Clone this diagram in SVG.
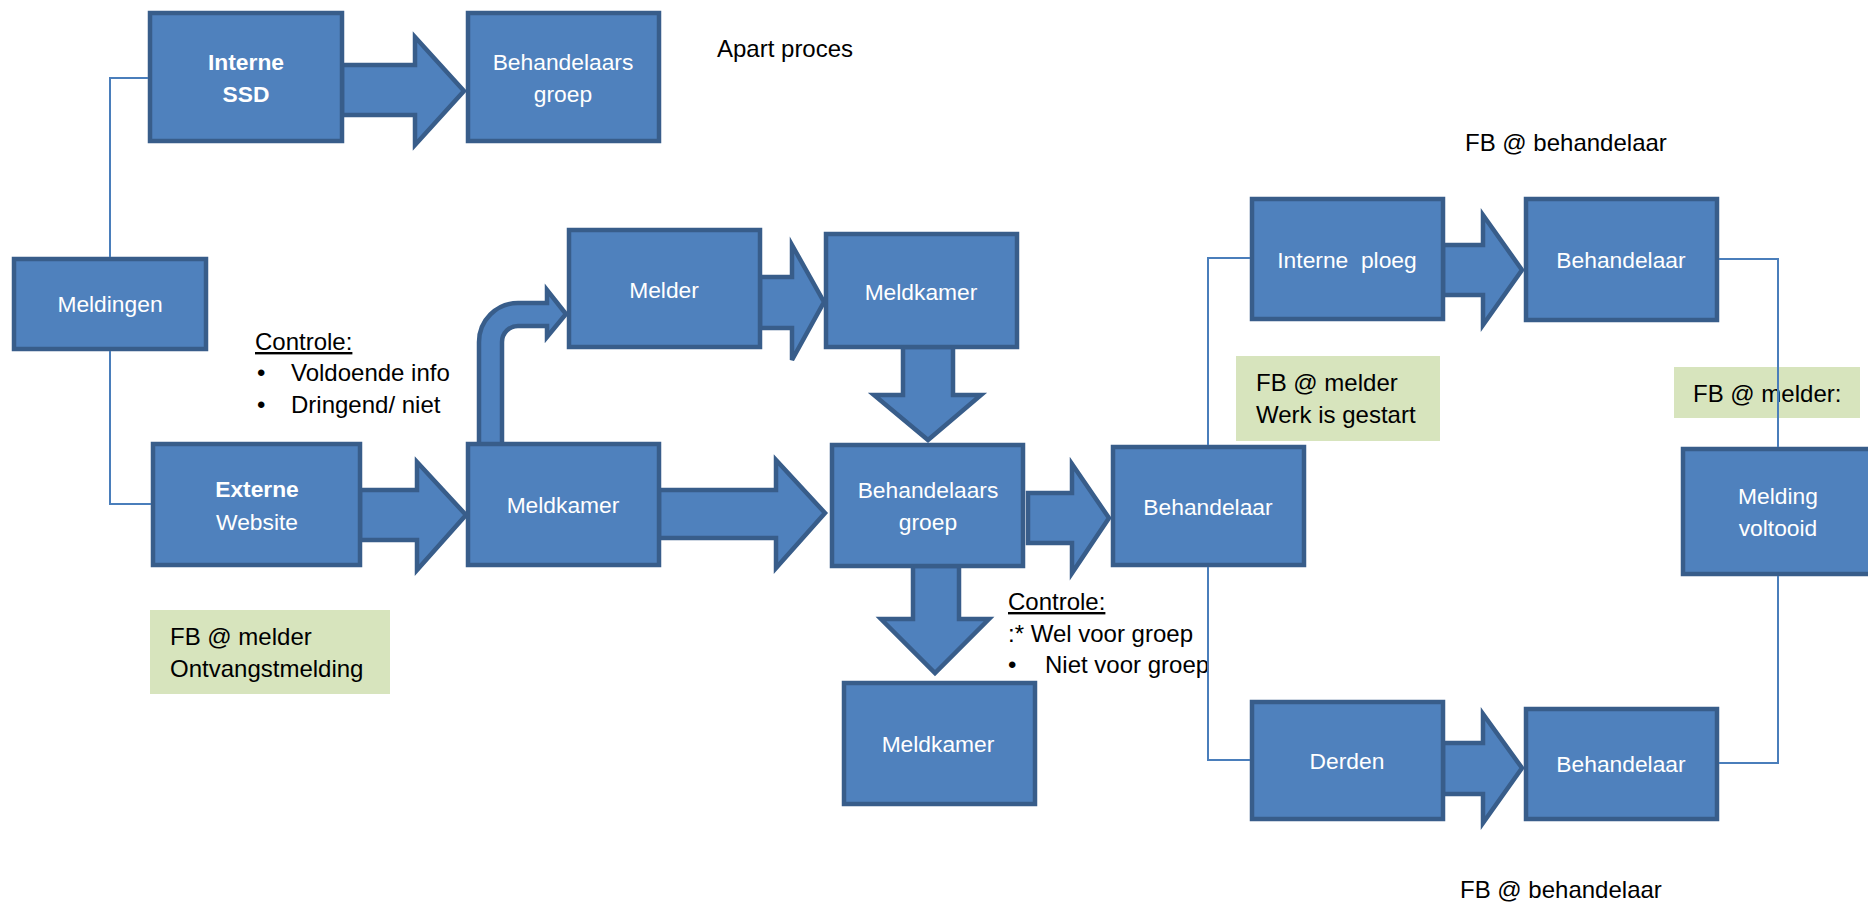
<svg xmlns="http://www.w3.org/2000/svg" width="1868" height="905" viewBox="0 0 1868 905">
<style>
.box{fill:#4F81BD;stroke:#385D8A;stroke-width:4.5}
.arr{fill:#4F81BD;stroke:#385D8A;stroke-width:4.5;stroke-linejoin:miter}
.note{fill:#D7E4BD;stroke:none}
.con{fill:none;stroke:#4A7EBB;stroke-width:2}
.bt{font-family:"Liberation Sans",Arial,sans-serif;font-size:22.8px;fill:#FFFFFF;text-anchor:middle}
.bb{font-weight:bold}
.t{font-family:"Liberation Sans",Arial,sans-serif;font-size:24px;fill:#000000}
</style>
<rect width="1868" height="905" fill="#FFFFFF"/>
<g id="arrows">
<path class="arr" d="M342 65 L415 65 L415 37 L464 91 L415 145 L415 115 L342 115 Z"/>
<path class="arr" d="M360 490 L417 490 L417 462 L466 515 L417 570 L417 540 L360 540 Z"/>
<path class="arr" d="M659 490 L776 490 L776 460 L825 513 L776 568 L776 538 L659 538 Z"/>
<path class="arr" d="M1028 493 L1072 493 L1072 464 L1109 518 L1072 573 L1072 543 L1028 543 Z"/>
<path class="arr" d="M760 277 L792 277 L792 245 L824 302 L792 360 L792 328 L760 328 Z"/>
<path class="arr" d="M903 347 L953 347 L953 395 L981 395 L928 440 L874 395 L903 395 Z"/>
<path class="arr" d="M913 566 L959 566 L959 619 L989 619 L935 673 L881 619 L913 619 Z"/>
<path class="arr" d="M1443 245 L1483 245 L1483 215 L1522 270 L1483 325 L1483 295 L1443 295 Z"/>
<path class="arr" d="M1443 743 L1483 743 L1483 714 L1522 768 L1483 823 L1483 794 L1443 794 Z"/>
<path class="arr" d="M479 445 L479 342 A39 39 0 0 1 518 303 L547 303 L547 290 L566 314 L547 337 L547 326 L518 326 A16 16 0 0 0 502 342 L502 445 Z"/>
</g>
<g id="n-interne-ssd"><rect class="box" x="150" y="13" width="192" height="128"/><text class="bt bb" x="246" y="70">Interne</text><text class="bt bb" x="246" y="102">SSD</text></g>
<g id="n-behgroep-top"><rect class="box" x="468" y="13" width="191" height="128"/><text class="bt" x="563" y="70">Behandelaars</text><text class="bt" x="563" y="102">groep</text></g>
<g id="n-meldingen"><rect class="box" x="14" y="259" width="192" height="90"/><text class="bt" x="110" y="312">Meldingen</text></g>
<g id="n-externe"><rect class="box" x="153" y="444" width="207" height="121"/><text class="bt bb" x="257" y="497">Externe</text><text class="bt" x="257" y="530">Website</text></g>
<g id="n-meldkamer-l"><rect class="box" x="468" y="444" width="191" height="121"/><text class="bt" x="563" y="513">Meldkamer</text></g>
<g id="n-melder"><rect class="box" x="569" y="230" width="191" height="117"/><text class="bt" x="664" y="298">Melder</text></g>
<g id="n-meldkamer-t"><rect class="box" x="826" y="234" width="191" height="113"/><text class="bt" x="921" y="300">Meldkamer</text></g>
<g id="n-behgroep-mid"><rect class="box" x="832" y="445" width="191" height="121"/><text class="bt" x="928" y="498">Behandelaars</text><text class="bt" x="928" y="530">groep</text></g>
<g id="n-meldkamer-b"><rect class="box" x="844" y="683" width="191" height="121"/><text class="bt" x="938" y="752">Meldkamer</text></g>
<g id="n-behandelaar-mid"><rect class="box" x="1113" y="447" width="191" height="118"/><text class="bt" x="1208" y="515">Behandelaar</text></g>
<g id="n-interne-ploeg"><rect class="box" x="1252" y="199" width="191" height="120"/><text class="bt" x="1347" y="268" xml:space="preserve">Interne  ploeg</text></g>
<g id="n-behandelaar-top"><rect class="box" x="1526" y="199" width="191" height="121"/><text class="bt" x="1621" y="268">Behandelaar</text></g>
<g id="n-derden"><rect class="box" x="1252" y="702" width="191" height="117"/><text class="bt" x="1347" y="769">Derden</text></g>
<g id="n-behandelaar-bot"><rect class="box" x="1526" y="709" width="191" height="110"/><text class="bt" x="1621" y="772">Behandelaar</text></g>
<g id="n-voltooid"><rect class="box" x="1683" y="449" width="191" height="125"/><text class="bt" x="1778" y="504">Melding</text><text class="bt" x="1778" y="536">voltooid</text></g>
<g id="n-fb-ontvangst"><rect class="note" x="150" y="610" width="240" height="84"/><text class="t" x="170" y="645">FB @ melder</text><text class="t" x="170" y="677">Ontvangstmelding</text></g>
<g id="n-fb-gestart"><rect class="note" x="1236" y="356" width="204" height="85"/><text class="t" x="1256" y="391">FB @ melder</text><text class="t" x="1256" y="423">Werk is gestart</text></g>
<g id="n-fb-melder"><rect class="note" x="1674" y="367" width="186" height="51"/><text class="t" x="1693" y="402">FB @ melder:</text></g>
<g id="labels">
<text class="t" x="717" y="57">Apart proces</text>
<text class="t" x="1465" y="151">FB @ behandelaar</text>
<text class="t" x="1460" y="898">FB @ behandelaar</text>
<text class="t" x="255" y="350" text-decoration="underline">Controle:</text>
<text class="t" x="257" y="381">•</text><text class="t" x="291" y="381">Voldoende info</text>
<text class="t" x="257" y="413">•</text><text class="t" x="291" y="413">Dringend/ niet</text>
<text class="t" x="1008" y="610" text-decoration="underline">Controle:</text>
<text class="t" x="1008" y="642">:* Wel voor groep</text>
<text class="t" x="1008" y="673">•</text><text class="t" x="1045" y="673">Niet voor groep</text>
</g>
<g id="connectors">
<polyline class="con" points="148,78 110,78 110,257"/>
<polyline class="con" points="110,351 110,504 151,504"/>
<polyline class="con" points="1208,445 1208,258 1250,258"/>
<polyline class="con" points="1208,567 1208,760 1250,760"/>
<polyline class="con" points="1719,259 1778,259 1778,447"/>
<polyline class="con" points="1719,763 1778,763 1778,576"/>
</g>
</svg>
